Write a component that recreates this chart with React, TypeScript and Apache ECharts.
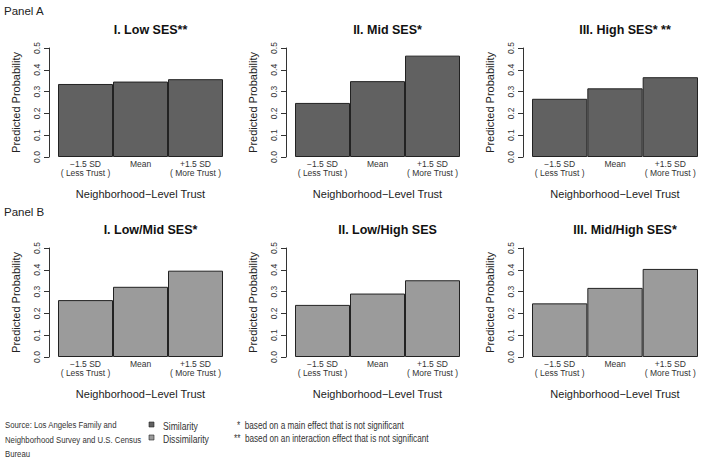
import React, { useEffect, useRef } from "react";
import * as echarts from "echarts";

const categories = ["\u22121.5 SD\n( Less Trust )", "Mean", "+1.5 SD\n( More Trust )"];

const lowSES = [0.335, 0.346, 0.357];
const midSES = [0.248, 0.348, 0.465];
const highSES = [0.267, 0.315, 0.366];
const lowMidSES = [0.261, 0.322, 0.396];
const lowHighSES = [0.239, 0.291, 0.352];
const midHighSES = [0.246, 0.317, 0.404];

const titlesA = ["I. Low SES**", "II. Mid SES*", "III. High SES* **"];
const titlesB = ["I. Low/Mid SES*", "II. Low/High SES", "III. Mid/High SES*"];

const SIM = "#616161";
const DIS = "#9b9b9b";
const FONT = "'Liberation Sans', Arial, sans-serif";
const NARROW = 0.82;

export default function App() {
  const ref = useRef<HTMLDivElement>(null);
  useEffect(() => {
    if (!ref.current) return;
    const chart = echarts.init(ref.current, null, { renderer: "svg" });
    const cols = [
      { left: 58, width: 165 },
      { left: 295, width: 165 },
      { left: 532, width: 166 },
    ];
    const rows = [48, 248];
    const plotH = 109;
    const panels = [
      { data: lowSES, title: titlesA[0], color: SIM },
      { data: midSES, title: titlesA[1], color: SIM },
      { data: highSES, title: titlesA[2], color: SIM },
      { data: lowMidSES, title: titlesB[0], color: DIS },
      { data: lowHighSES, title: titlesB[1], color: DIS },
      { data: midHighSES, title: titlesB[2], color: DIS },
    ];
    const grid: any[] = [];
    const xAxis: any[] = [];
    const yAxis: any[] = [];
    const series: any[] = [];
    const title: any[] = [];
    panels.forEach((p, i) => {
      const c = cols[i % 3];
      const top = rows[Math.floor(i / 3)];
      grid.push({ left: c.left, top, width: c.width, height: plotH });
      xAxis.push({
        type: "category",
        gridIndex: i,
        data: categories,
        boundaryGap: true,
        axisLine: { show: false },
        axisTick: { show: false },
        axisLabel: { interval: 0, fontSize: 8.5, lineHeight: 9.5, color: "#333", margin: 2, fontFamily: FONT },
        name: "Neighborhood\u2212Level Trust",
        nameLocation: "middle",
        nameGap: 31,
        nameTextStyle: { fontSize: 11, color: "#222", fontFamily: FONT },
      });
      yAxis.push({
        type: "value",
        gridIndex: i,
        min: 0,
        max: 0.5,
        interval: 0.1,
        offset: 9,
        axisLine: { show: true, lineStyle: { color: "#333", width: 1 } },
        axisTick: { show: true, length: 5, lineStyle: { color: "#333" } },
        splitLine: { show: false },
        axisLabel: {
          rotate: 90,
          fontSize: 8.5,
          color: "#333",
          margin: 8,
          fontFamily: FONT,
          formatter: (v: number) => v.toFixed(1),
        },
        name: "Predicted Probability",
        nameLocation: "middle",
        nameGap: 28,
        nameTextStyle: { fontSize: 11, color: "#222", fontFamily: FONT },
      });
      series.push({
        type: "bar",
        xAxisIndex: i,
        yAxisIndex: i,
        data: p.data,
        barWidth: "100%",
        itemStyle: { color: p.color, borderColor: "#222", borderWidth: 1 },
      });
      title.push({
        text: p.title,
        left: c.left + c.width / 2 + 5,
        top: top - 30,
        textAlign: "center",
        textStyle: { fontSize: 12.5, fontWeight: "bold", color: "#111", fontFamily: FONT },
      });
    });

    const small = (text: string, x: number, y: number, size: number, lh?: number) => ({
      type: "text",
      x,
      y,
      scaleX: NARROW,
      style: {
        text,
        fontSize: size,
        lineHeight: lh,
        fill: "#333",
        fontFamily: FONT,
        verticalAlign: "top",
      },
    });

    chart.setOption({
      animation: false,
      backgroundColor: "#fff",
      title,
      grid,
      xAxis,
      yAxis,
      series,
      graphic: [
        { type: "text", left: 4, top: 5, style: { text: "Panel A", fontSize: 11.5, fill: "#222", fontFamily: FONT } },
        { type: "text", left: 4, top: 206, style: { text: "Panel B", fontSize: 11.5, fill: "#222", fontFamily: FONT } },
        small("Source: Los Angeles Family and\nNeighborhood Survey and U.S. Census\nBureau", 5, 418, 9.5, 14.2),
        { type: "rect", shape: { x: 149, y: 422, width: 5, height: 5 }, style: { fill: SIM, stroke: "#222", lineWidth: 0.6 } },
        { type: "rect", shape: { x: 149, y: 435, width: 5, height: 5 }, style: { fill: DIS, stroke: "#222", lineWidth: 0.6 } },
        small("Similarity", 163, 421, 10.5),
        small("Dissimilarity", 163, 434, 10.5),
        small("*  based on a main effect that is not significant", 237, 421, 10),
        small("**  based on an interaction effect that is not significant", 234, 434, 10),
      ],
    });
    return () => chart.dispose();
  }, []);
  return <div ref={ref} style={{ position: "fixed", left: 0, top: 0, width: 704, height: 464, background: "#fff" }} />;
}
